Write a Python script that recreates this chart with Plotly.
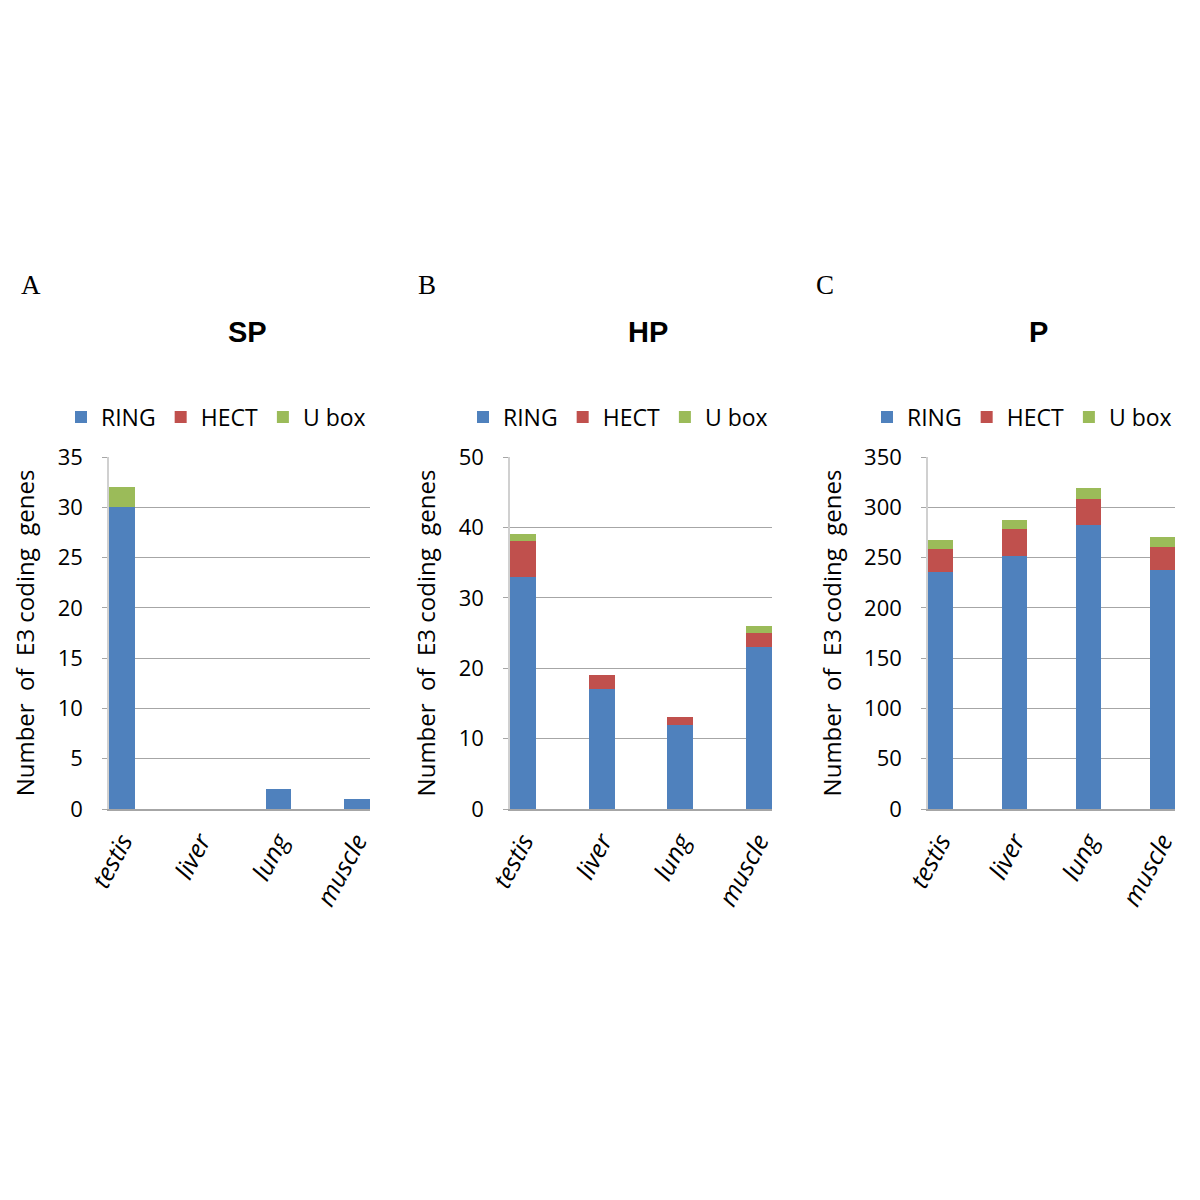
import plotly.graph_objects as go

tissues = ["testis", "liver", "lung", "muscle"]
series_names = ["RING", "HECT", "U box"]
colors = ["#4F81BD", "#C0504D", "#9BBB59"]

# Panel A: SP
sp_ring = [30, 0, 2, 1]
sp_hect = [0, 0, 0, 0]
sp_ubox = [2, 0, 0, 0]
# Panel B: HP
hp_ring = [33, 17, 12, 23]
hp_hect = [5, 2, 1, 2]
hp_ubox = [1, 0, 0, 1]
# Panel C: P
p_ring = [236, 252, 282, 238]
p_hect = [23, 26, 26, 23]
p_ubox = [8, 9, 11, 9]

OFF = 8  # page body margin offset


def px(x):
    return (x - OFF) / 1200


def py(y):
    return 1 - (y - OFF) / 1200


panels = [
    dict(title="SP", letter="A", data=[sp_ring, sp_hect, sp_ubox], ymax=35, dtick=5,
         dom=[px(109), px(370)], legx=px(216), titx=px(247), letx=px(31)),
    dict(title="HP", letter="B", data=[hp_ring, hp_hect, hp_ubox], ymax=50, dtick=10,
         dom=[px(510), px(772)], legx=px(618), titx=px(648), letx=px(427)),
    dict(title="P", letter="C", data=[p_ring, p_hect, p_ubox], ymax=350, dtick=50,
         dom=[px(928), px(1175)], legx=px(1022), titx=px(1038), letx=px(825)),
]

ytitle = "Number\u00a0\u00a0of\u00a0\u00a0E3 coding\u00a0\u00a0genes"

fig = go.Figure()
ydom = [py(809), py(457)]
annotations = []
layout = {}
for i, p in enumerate(panels):
    sfx = "" if i == 0 else str(i + 1)
    leg = "legend" if i == 0 else f"legend{i+1}"
    for j, name in enumerate(series_names):
        fig.add_trace(go.Bar(
            x=list(range(len(tissues))), y=p["data"][j], name=name,
            marker=dict(color=colors[j], line=dict(width=0)),
            width=0.33, xaxis="x" + sfx, yaxis="y" + sfx, legend=leg,
            showlegend=True,
        ))
    layout["xaxis" + sfx] = dict(
        domain=p["dom"], anchor="y" + sfx, range=[-0.17, 3.17], automargin=False,
        tickmode="array", tickvals=list(range(4)),
        ticktext=[f"<i>{t}</i>" for t in tissues], tickangle=-62,
        tickfont=dict(family="Open Sans, Arial", size=25, color="#000"),
        showline=True, linecolor="#A6A6A6", linewidth=1.5, showgrid=False,
        ticks="", zeroline=False, ticklabelstandoff=6,
    )
    layout["yaxis" + sfx] = dict(
        domain=ydom, anchor="x" + sfx, range=[0, p["ymax"]], dtick=p["dtick"],
        automargin=False,
        tickfont=dict(family="Open Sans, Arial", size=22, color="#000"),
        showline=True, linecolor="#D0D0D0", linewidth=1.5,
        showgrid=True, gridcolor="#A6A6A6", gridwidth=1, zeroline=False,
        ticks="outside", ticklen=5, tickcolor="#A6A6A6", ticklabelstandoff=15,
        title=dict(text=ytitle,
                   font=dict(family="Open Sans, Arial", size=24, color="#000"), standoff=16),
    )
    layout[leg] = dict(
        orientation="h", x=p["legx"], xanchor="center", y=py(417), yanchor="middle",
        font=dict(family="Open Sans, Arial", size=23, color="#000"),
        bgcolor="rgba(0,0,0,0)", itemwidth=30, traceorder="normal",
    )
    annotations.append(dict(text=f"<b>{p['title']}</b>", x=p["titx"], y=py(332),
                            xanchor="center", yanchor="middle",
                            xref="paper", yref="paper", showarrow=False,
                            font=dict(family="Liberation Sans, Arial", size=29, color="#000")))
    annotations.append(dict(text=p["letter"], x=p["letx"], y=py(285),
                            xanchor="center", yanchor="middle",
                            xref="paper", yref="paper", showarrow=False,
                            font=dict(family="Liberation Serif, Times New Roman", size=27, color="#000")))

fig.update_layout(
    **layout,
    annotations=annotations,
    barmode="stack",
    width=1200, height=1200,
    margin=dict(l=0, r=0, t=0, b=0, autoexpand=False),
    paper_bgcolor="white", plot_bgcolor="white",
)
fig.write_html("out.html")
